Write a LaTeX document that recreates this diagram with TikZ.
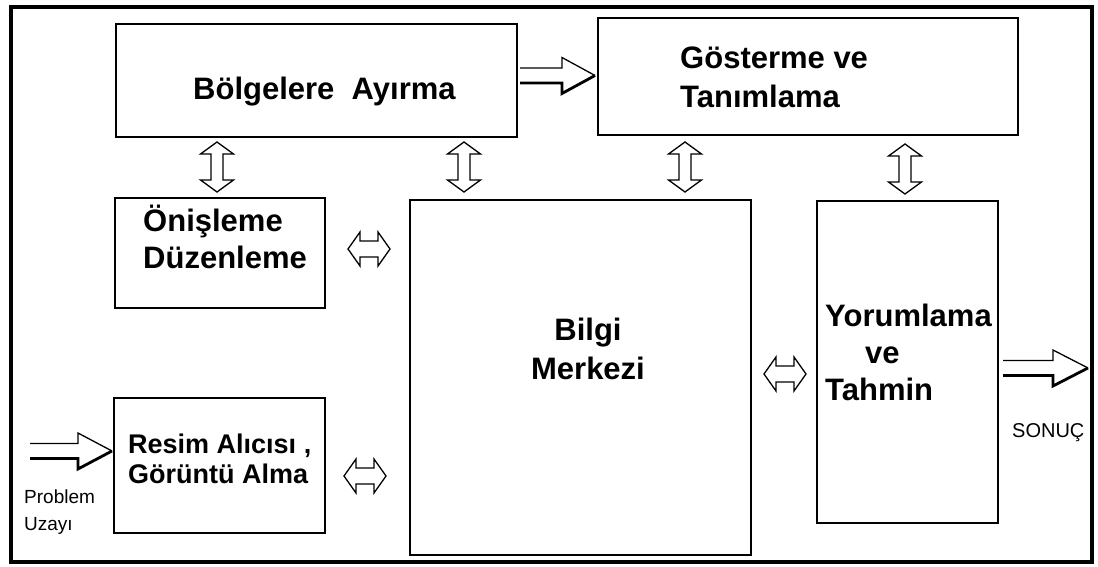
\documentclass[tikz,border=0pt]{standalone}
\usepackage{fontspec}
\setmainfont{Liberation Sans}
\begin{document}
\begin{tikzpicture}[x=1pt,y=-1pt,
  box/.style={draw, line width=1.6pt, inner sep=0pt},
  big/.style={font=\bfseries\fontsize{31}{37}\selectfont, anchor=base west, inner sep=0pt},
  mid/.style={font=\bfseries\fontsize{27}{31}\selectfont, anchor=base west, inner sep=0pt},
  small/.style={font=\fontsize{19}{23}\selectfont, anchor=base west, inner sep=0pt},
  arrowline/.style={line width=1.3pt, line join=miter},
  % vertical double-headed block arrow
  vdarrow/.pic={\draw[arrowline] (0,-25) -- (16.5,-13) -- (6,-13) -- (6,13) -- (16.5,13)
      -- (0,25) -- (-16.5,13) -- (-6,13) -- (-6,-13) -- (-16.5,-13) -- cycle;},
  % horizontal double-headed block arrow
  hdarrow/.pic={\draw[arrowline] (-21,0) -- (-9,-17) -- (-9,-8) -- (9,-8) -- (9,-17)
      -- (21,0) -- (9,17) -- (9,8) -- (-9,8) -- (-9,17) -- cycle;},
  % open right block arrow: length, head length
  pics/rblock/.style n args={2}{code={
    \draw[arrowline] (0,-7.5) -- ({#1-#2},-7.5) -- ({#1-#2},-18) -- (#1,0);
    \draw[line width=2.8pt, line join=miter] (#1,0) -- ({#1-#2},18) -- ({#1-#2},7.5) -- (0,7.5);
  }}
]
\useasboundingbox (0,0) rectangle (1098,567);

% outer frame
\draw[line width=4pt] (11,7) rectangle (1092,562);

% boxes
\node[box, minimum width=401pt, minimum height=113pt] (bolge) at (316.5,80.5) {};
\node[box, minimum width=420pt, minimum height=117pt] (goster) at (808,76.5) {};
\node[box, minimum width=210pt, minimum height=110pt] (onis) at (220,253) {};
\node[box, minimum width=211pt, minimum height=135pt] (resim) at (219.5,465.5) {};
\node[box, minimum width=341pt, minimum height=355pt] (bilgi) at (580.5,377.5) {};
\node[box, minimum width=181pt, minimum height=322pt] (yorum) at (907.5,362) {};

% labels
\node[big] (bolgeA) at (193,100) {Bölgelere~~Ayırma};
\node[big] (gosterA) at (680,69) {Gösterme ve};
\node[big] (gosterB) at (680,108) {Tanımlama};
\node[big] (onisA) at (143,231) {Önişleme};
\node[big] (onisB) at (143,268) {Düzenleme};
\node[mid] (resimA) at (128,453) {Resim Alıcısı ,};
\node[mid] (resimB) at (128,483) {Görüntü Alma};
\node[big, anchor=base] (bilgiA) at (588,340) {Bilgi};
\node[big, anchor=base] (bilgiB) at (588,379) {Merkezi};
\node[big] (yorumA) at (825,326) {Yorumlama};
\node[big] (yorumB) at (865,363) {ve};
\node[big] (yorumC) at (825,400) {Tahmin};
\node[small] (probA) at (24,503) {Problem};
\node[small] (probB) at (24,530) {Uzayı};
\node[small, font=\fontsize{20}{24}\selectfont] (sonuc) at (1012,437) {SONUÇ};

% vertical double arrows
\pic at (217,167) {vdarrow};
\pic at (464,167) {vdarrow};
\pic at (685,167) {vdarrow};
\pic at (905,169) {vdarrow};

% horizontal double arrows
\pic at (369,249) {hdarrow};
\pic at (365,476) {hdarrow};
\pic at (785,374) {hdarrow};

% one-way block arrows
\pic at (520,75.5) {rblock={75}{33}};
\pic at (30,451) {rblock={82}{34}};
\pic at (1003,368) {rblock={85}{35}};
\end{tikzpicture}
\end{document}
